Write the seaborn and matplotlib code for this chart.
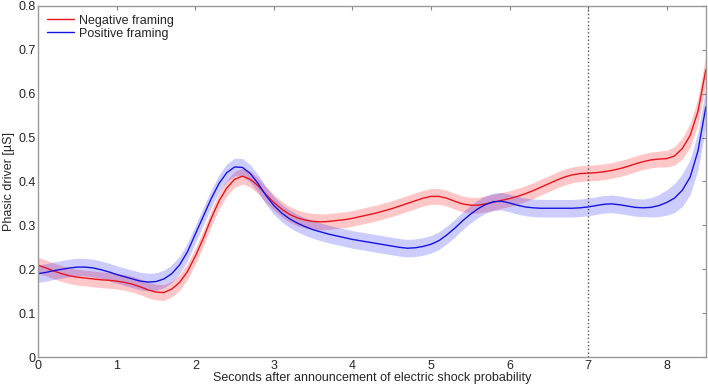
import numpy as np
import matplotlib.pyplot as plt
import seaborn as sns

# Temps (s) après l'annonce
seconds = np.round(np.arange(0, 8.51, 0.1), 2)

negative_mean = [
    0.209, 0.203, 0.196, 0.190, 0.185, 0.182, 0.180, 0.178, 0.176, 0.175,
    0.173, 0.170, 0.166, 0.160, 0.153, 0.148, 0.147, 0.155, 0.170, 0.195,
    0.230, 0.270, 0.315, 0.355, 0.385, 0.405, 0.412, 0.405, 0.390, 0.370,
    0.352, 0.337, 0.325, 0.317, 0.312, 0.309, 0.308, 0.309, 0.311, 0.313,
    0.316, 0.320, 0.324, 0.328, 0.333, 0.338, 0.344, 0.350, 0.356, 0.362,
    0.366, 0.366, 0.362, 0.355, 0.349, 0.346, 0.346, 0.349, 0.353, 0.357,
    0.361, 0.366, 0.372, 0.379, 0.387, 0.395, 0.403, 0.410, 0.415, 0.418,
    0.419, 0.420, 0.422, 0.425, 0.429, 0.434, 0.440, 0.445, 0.449, 0.451,
    0.452, 0.458, 0.475, 0.505, 0.560, 0.655,
]
negative_sem = [0.018] * 80 + [0.019, 0.021, 0.024, 0.027, 0.030, 0.032]

positive_mean = [
    0.190, 0.193, 0.197, 0.200, 0.203, 0.205, 0.205, 0.203, 0.199, 0.194,
    0.188, 0.183, 0.178, 0.173, 0.171, 0.172, 0.178, 0.190, 0.210, 0.240,
    0.280, 0.320, 0.360, 0.395, 0.420, 0.433, 0.432, 0.418, 0.395, 0.368,
    0.345, 0.328, 0.315, 0.305, 0.297, 0.290, 0.285, 0.280, 0.276, 0.272,
    0.268, 0.265, 0.262, 0.259, 0.256, 0.253, 0.250, 0.248, 0.249, 0.252,
    0.257, 0.265, 0.278, 0.293, 0.310, 0.325, 0.338, 0.348, 0.354, 0.355,
    0.351, 0.346, 0.342, 0.340, 0.339, 0.339, 0.339, 0.339, 0.339, 0.340,
    0.342, 0.345, 0.348, 0.349, 0.347, 0.344, 0.341, 0.340, 0.341, 0.345,
    0.352, 0.362, 0.380, 0.410, 0.470, 0.570,
]
positive_sem = [0.020] * 78 + [0.022, 0.025, 0.029, 0.033, 0.037, 0.040, 0.043, 0.045]

shock_onset = 7

sns.set_style("white")
plt.rcParams['font.family'] = ['Liberation Sans', 'DejaVu Sans']

fig, ax = plt.subplots(figsize=(7.08, 3.89), dpi=100)

neg_m = np.array(negative_mean)
pos_m = np.array(positive_mean)
ax.fill_between(seconds, neg_m - negative_sem, neg_m + negative_sem,
                color='red', alpha=0.22, lw=0)
ax.fill_between(seconds, pos_m - positive_sem, pos_m + positive_sem,
                color='blue', alpha=0.2, lw=0)
sns.lineplot(x=seconds, y=neg_m, color='#e8141c', lw=1.0, ax=ax, label='Negative framing')
sns.lineplot(x=seconds, y=pos_m, color='#1414e0', lw=1.0, ax=ax, label='Positive framing')

ax.axvline(shock_onset, color='#555555', ls=':', lw=1)

ax.set_xlim(0, 8.5)
ax.set_ylim(0, 0.8)
ax.set_xticks(range(0, 9))
ax.set_yticks(np.arange(0, 0.81, 0.1))
ax.set_yticklabels(['0'] + [f'{v:.1f}' for v in np.arange(0.1, 0.81, 0.1)])
ax.set_xlabel('Seconds after announcement of electric shock probability', fontsize=9, labelpad=0)
ax.set_ylabel('Phasic driver [µS]', fontsize=9, labelpad=2)
ax.tick_params(direction='in', length=3, labelsize=9, top=True, right=True,
               color='#888888', pad=2)
for sp in ax.spines.values():
    sp.set_color('#999999')
    sp.set_linewidth(1)

ax.legend(loc='upper left', frameon=False, fontsize=9, handlelength=2.2,
          borderaxespad=0.3, handletextpad=0.4, labelspacing=0.1)

fig.subplots_adjust(left=0.054, right=0.997, bottom=0.082, top=0.985)
fig.savefig('out.png', dpi=100)
